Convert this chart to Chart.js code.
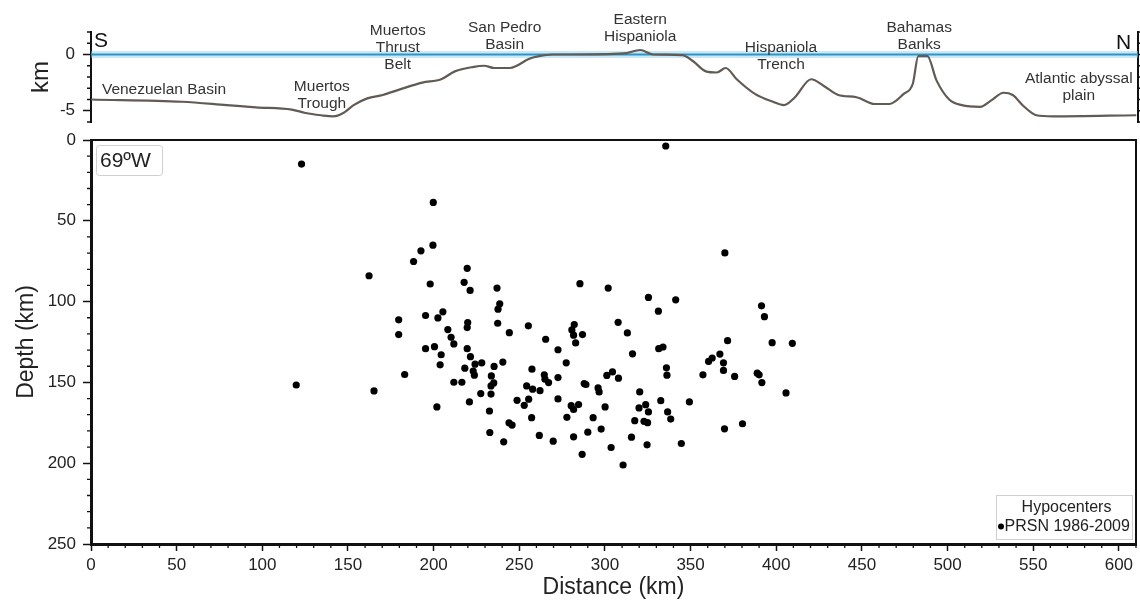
<!DOCTYPE html>
<html>
<head>
<meta charset="utf-8">
<script src="https://cdn.jsdelivr.net/npm/chart.js@4.4.0/dist/chart.umd.min.js"></script>
<style>
  body{margin:0;background:#fff;}
  #wrap{position:relative;width:1140px;height:603px;overflow:hidden;}
  canvas{position:absolute;left:0;}
  #top{top:0;}
  #bot{top:130px;}
</style>
</head>
<body>
<div id="wrap">
  <canvas id="top" width="1140" height="130"></canvas>
  <canvas id="bot" width="1140" height="473"></canvas>
</div>
<script>
// Perfil batimétrico S-N (distancia km, elevación km)
const perfilDist = [0,53,79,96,117,125,134,141,147,153,161,170,180,193,204,212,223,229,235,244,248,255,261,269,279,
  310.5,320,327.5,344.4,350.8,358.2,364.6,369.8,376.2,386.8,397.3,403.7,410.1,419.6,427,435.4,446,456.6,465.1,
  473.5,478.8,482,487.3,492.6,500,507.4,518,524.3,531.7,537,543.4,550.8,560.3,609];
const perfilElev = [-4.0,-4.2,-4.5,-4.7,-4.9,-5.2,-5.4,-5.5,-5.2,-4.5,-3.9,-3.6,-3.1,-2.5,-2.2,-1.5,-1.1,-1.0,-1.2,-1.2,-1.0,-0.4,-0.15,0,0,
  0.1,0.4,0,-0.05,-0.6,-1.5,-1.6,-1.2,-2.2,-3.5,-4.2,-4.5,-3.8,-2.2,-2.8,-3.6,-3.8,-4.4,-4.4,
  -3.5,-2.6,-0.15,-0.15,-2.3,-4.0,-4.5,-4.65,-4.1,-3.4,-3.6,-4.6,-5.4,-5.5,-5.4];

// Hipocentros PRSN 1986-2009
const hipoDist = [122.9,199.8,335.5,199.6,192.6,188.3,162.3,198.0,179.6,195.3,202.5,205.4,179.6,208.3,210.2,211.8,195.3,200.5,204.4,203.8,183.1,119.8,165.2,211.8,201.9,
  219.6,217.8,221.3,237.0,238.6,237.6,219.9,219.6,237.4,244.2,255.3,265.4,285.4,301.9,325.4,282.1,280.7,281.7,286.9,282.9,307.7,313.1,316.1,
  219.6,221.5,224.2,228.1,218.2,223.1,223.8,216.5,235.3,240.4,233.7,235.1,233.5,233.5,227.5,220.9,232.6,232.8,240.9,244.0,245.8,
  248.7,252.9,255.5,254.3,257.8,262.1,257.4,257.2,261.7,264.6,265.0,267.1,272.6,277.4,272.6,272.6,269.8,277.8,281.7,280.3,281.7,284.6,
  287.9,288.9,286.7,290.0,293.1,296.0,296.6,297.8,300.1,301.1,304.4,307.9,303.6,310.6,315.5,317.4,319.9,320.3,323.8,325.4,322.8,324.9,324.6,
  370.0,341.3,331.2,391.4,393.1,331.4,333.9,371.6,397.6,409.4,335.9,336.2,367.1,362.6,360.5,369.2,369.2,357.2,375.7,388.9,390.0,391.6,405.7,
  332.6,349.3,336.6,338.4,369.8,380.3,344.6];
const hipoProf = [14.9,38.6,3.7,65.1,68.6,75.2,84.0,89.1,111.3,108.6,110.1,106.3,120.4,117.3,122.1,126.2,129.1,127.9,132.9,139.1,145.1,151.6,155.3,149.9,165.2,
  79.4,88.1,93.1,91.6,101.4,104.7,113.0,116.1,113.4,119.2,115.0,123.3,88.9,91.6,97.4,114.2,117.5,120.8,120.4,125.6,112.8,119.4,132.3,
  129.1,134.1,138.7,137.9,141.2,143.0,145.5,149.9,140.1,137.4,146.0,150.3,152.2,157.2,156.9,162.1,167.7,181.0,186.8,175.0,176.4,
  161.1,164.2,160.4,152.2,154.2,155.1,141.8,171.8,182.8,145.3,148.0,150.1,129.8,137.9,147.0,160.2,186.4,171.6,183.7,164.4,166.7,163.7,
  150.7,151.3,194.5,180.8,171.8,153.4,155.9,178.9,165.2,145.7,143.5,147.4,190.3,201.1,183.9,173.7,165.8,155.9,163.8,168.3,174.1,174.9,188.6,
  69.9,98.9,105.9,102.6,109.3,129.1,128.1,124.2,125.4,125.8,141.0,145.5,132.5,134.9,137.0,137.9,142.6,145.3,146.3,144.3,145.3,150.1,156.5,
  161.3,162.1,168.3,172.7,178.7,175.6,187.8];

// Rasgos del perfil (texto, distancia km, elevación km de la primera línea)
const rasgoTexto = [['Venezuelan Basin'],['Muertos','Trough'],['Muertos','Thrust','Belt'],['San Pedro','Basin'],
  ['Eastern','Hispaniola'],['Hispaniola','Trench'],['Bahamas','Banks'],['Atlantic abyssal','plain']];
const rasgoDist = [42.5,134.5,178.7,241,320,402,482.5,575.5];
const rasgoElev = [-3.1,-2.85,2.15,2.4,3.1,0.62,2.4,-2.15];

const FAM = '"Liberation Sans", Arial, Helvetica, sans-serif';
Chart.defaults.font.family = FAM;
Chart.defaults.color = '#222';

// quita el relleno que Chart.js reserva para las etiquetas de los extremos
function sinRelleno(s){ s.paddingTop = 0; s.paddingBottom = 0; s.paddingLeft = 0; s.paddingRight = 0; }

function menores(ctx, scale, desde, hasta, paso, cadaMayor, lado, largo){
  ctx.save();
  ctx.strokeStyle = '#111';
  ctx.lineWidth = 1.3;
  ctx.beginPath();
  for (let v = desde; v <= hasta + 1e-9; v += paso){
    const r = Math.round(v*100)/100;
    if (cadaMayor && Math.abs(r % cadaMayor) < 1e-6) continue;
    const p = scale.getPixelForValue(r);
    if (lado === 'left'){ ctx.moveTo(scale.right, p); ctx.lineTo(scale.right - largo, p); }
    if (lado === 'right'){ ctx.moveTo(scale.left, p); ctx.lineTo(scale.left + largo, p); }
    if (lado === 'bottom'){ ctx.moveTo(p, scale.top); ctx.lineTo(p, scale.top + largo); }
  }
  ctx.stroke();
  ctx.restore();
}

// Panel superior: batimetría
const decoTop = {
  id:'decoTop',
  afterDraw(chart){
    const {ctx, scales:{x, y, yR}} = chart;
    menores(ctx, y, -6, 2, 1, 5, 'left', 4);
    menores(ctx, yR, -6, 2, 1, 0, 'right', 4);
    ctx.save();
    ctx.fillStyle = '#333';
    ctx.textAlign = 'center';
    ctx.textBaseline = 'middle';
    ctx.font = '15.5px ' + FAM;
    rasgoTexto.forEach((lin, i) => {
      const px = x.getPixelForValue(rasgoDist[i]);
      const py = y.getPixelForValue(rasgoElev[i]);
      lin.forEach((t, k) => ctx.fillText(t, px, py + k*17));
    });
    ctx.fillStyle = '#111';
    ctx.font = '21px ' + FAM;
    ctx.textAlign = 'left';
    ctx.fillText('S', x.getPixelForValue(1.7), y.getPixelForValue(1.15));
    ctx.textAlign = 'right';
    ctx.fillText('N', x.getPixelForValue(606), y.getPixelForValue(1.0));
    ctx.restore();
  }
};

new Chart(document.getElementById('top'), {
  type:'line',
  data:{
    datasets:[
      { data: perfilDist.map((d,i)=>({x:d, y:perfilElev[i]})), borderColor:'#625a54', borderWidth:2.2,
        pointRadius:0, cubicInterpolationMode:'monotone', order:1 },
      { data:[{x:0,y:0},{x:610,y:0}], borderColor:'#2b95c6', borderWidth:2, pointRadius:0, order:2 },
      { data:[{x:0,y:0},{x:610,y:0}], borderColor:'rgba(140,205,235,0.45)', borderWidth:7, pointRadius:0, order:3 }
    ]
  },
  options:{
    responsive:false, animation:false,
    layout:{padding:{left:0, right:2, top:32, bottom:8}},
    plugins:{legend:{display:false}, tooltip:{enabled:false}},
    scales:{
      x:{type:'linear', min:0, max:610, display:false},
      y:{min:-6, max:2, position:'left',
         ticks:{stepSize:5, includeBounds:false, padding:8, font:{size:17}},
         grid:{drawOnChartArea:false, tickLength:8, tickColor:'#111', tickWidth:1.5},
         border:{color:'#111', width:2},
         title:{display:true, text:'km', font:{size:24}, padding:{top:27, bottom:0}, color:'#222'},
         afterFit(s){ s.width = 91; sinRelleno(s); }},
      yR:{min:-6, max:2, position:'right', ticks:{display:false}, grid:{display:false},
          border:{color:'#111', width:2}, afterFit(s){ s.width = 0; sinRelleno(s); }}
    }
  },
  plugins:[decoTop]
});

// Panel inferior: hipocentros
const decoBot = {
  id:'decoBot',
  afterDraw(chart){
    const {ctx, chartArea:a, scales:{x, y}} = chart;
    menores(ctx, x, 0, 610, 10, 50, 'bottom', 4);
    menores(ctx, y, 0, 250, 10, 50, 'left', 4);
    ctx.save();
    // recuadro 69ºW
    ctx.strokeStyle = '#cfcfcf';
    ctx.lineWidth = 1;
    ctx.beginPath();
    ctx.roundRect(a.left + 5.5, a.top + 5.5, 66, 30, 3);
    ctx.fillStyle = '#fff';
    ctx.fill();
    ctx.stroke();
    ctx.fillStyle = '#222';
    ctx.font = '21px ' + FAM;
    ctx.textBaseline = 'middle';
    ctx.textAlign = 'left';
    ctx.fillText('69ºW', a.left + 9, a.top + 21);
    // leyenda
    const lx = a.right - 139.5, ly = a.bottom - 48.5;
    ctx.strokeStyle = '#cfcfcf';
    ctx.strokeRect(lx, ly, 136, 44);
    ctx.font = '16px ' + FAM;
    ctx.textAlign = 'center';
    ctx.fillText('Hypocenters', lx + 70, ly + 12);
    ctx.textAlign = 'left';
    ctx.fillText('PRSN 1986-2009', lx + 8, ly + 31);
    ctx.beginPath();
    ctx.arc(lx + 4.5, ly + 31, 3, 0, Math.PI*2);
    ctx.fillStyle = '#000';
    ctx.fill();
    ctx.restore();
  }
};

new Chart(document.getElementById('bot'), {
  type:'scatter',
  data:{
    datasets:[{ data: hipoDist.map((d,i)=>({x:d, y:hipoProf[i]})), backgroundColor:'#000', borderWidth:0, pointRadius:3.6 }]
  },
  options:{
    responsive:false, animation:false,
    layout:{padding:{left:0, right:2, top:10, bottom:0}},
    plugins:{legend:{display:false}, tooltip:{enabled:false}},
    scales:{
      x:{type:'linear', min:0, max:610, position:'bottom',
         ticks:{stepSize:50, includeBounds:false, padding:4, font:{size:17}, maxRotation:0},
         grid:{drawOnChartArea:false, tickLength:7, tickColor:'#111', tickWidth:1.5},
         border:{color:'#111', width:3},
         title:{display:true, text:'Distance (km)', font:{size:23}, padding:{top:0, bottom:2}, color:'#222'},
         afterFit(s){ s.height = 59; sinRelleno(s); }},
      xT:{type:'linear', min:0, max:610, position:'top', ticks:{display:false}, grid:{display:false},
          border:{color:'#111', width:2, dash:[5,3]}, afterFit(s){ s.height = 0; sinRelleno(s); }},
      y:{min:0, max:250, reverse:true, position:'left',
         ticks:{stepSize:50, includeBounds:false, padding:7, font:{size:17}},
         grid:{drawOnChartArea:false, tickLength:8, tickColor:'#111', tickWidth:1.5},
         border:{color:'#111', width:3},
         title:{display:true, text:'Depth (km)', font:{size:23}, padding:{top:13, bottom:0}, color:'#222'},
         afterFit(s){ s.width = 91; sinRelleno(s); }},
      yR:{min:0, max:250, position:'right', ticks:{display:false}, grid:{display:false},
          border:{color:'#111', width:2}, afterFit(s){ s.width = 0; sinRelleno(s); }}
    }
  },
  plugins:[decoBot]
});
</script>
</body>
</html>
